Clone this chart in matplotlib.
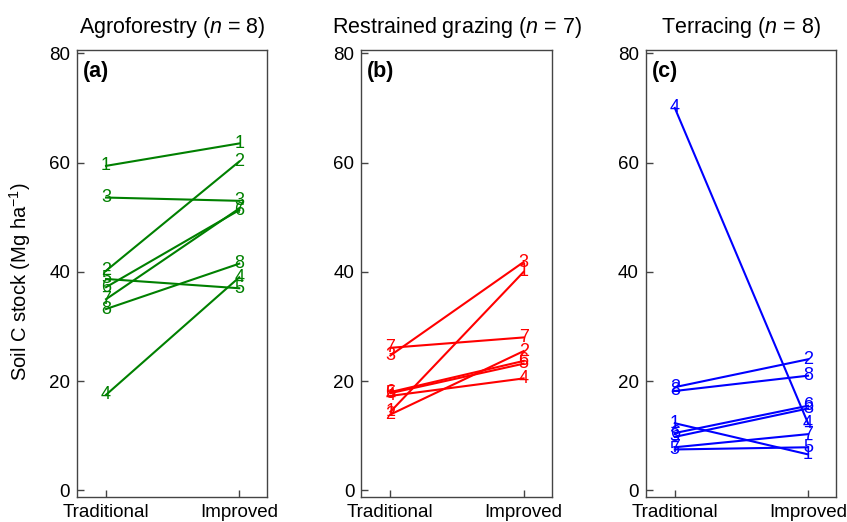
import matplotlib
matplotlib.use("Agg")
import matplotlib.pyplot as plt

plt.rcParams['font.family'] = ['Liberation Sans', 'DejaVu Sans']
plt.rcParams['mathtext.fontset'] = 'custom'
plt.rcParams['mathtext.rm'] = 'Liberation Sans'
plt.rcParams['mathtext.it'] = 'Liberation Sans:italic'
plt.rcParams['mathtext.bf'] = 'Liberation Sans:bold'

categories = ["Traditional", "Improved"]
panel_titles = ["Agroforestry ($\\mathit{n}$ = 8)",
                "Restrained grazing ($\\mathit{n}$ = 7)",
                "Terracing ($\\mathit{n}$ = 8)"]
panel_letters = ["(a)", "(b)", "(c)"]
colors = ["#008000", "#FF0000", "#0000FF"]

agro_trad = [59.4, 40.2, 53.6, 17.5, 38.7, 37.2, 35.0, 33.2]
agro_impr = [63.5, 60.2, 53.0, 39.0, 37.0, 51.3, 51.6, 41.5]
graz_trad = [14.4, 13.9, 24.7, 17.3, 17.8, 18.0, 26.1]
graz_impr = [40.0, 25.5, 41.8, 20.5, 23.2, 23.7, 28.0]
terr_trad = [12.3, 18.9, 9.8, 70.0, 7.5, 10.5, 7.9, 18.2]
terr_impr = [6.6, 24.0, 15.0, 12.3, 7.9, 15.5, 10.3, 21.0]

data = [(agro_trad, agro_impr), (graz_trad, graz_impr), (terr_trad, terr_impr)]
yticks = [0, 20, 40, 60, 80]

fig, axes = plt.subplots(1, 3, figsize=(8.47, 5.22), dpi=100)
fig.subplots_adjust(left=0.0909, right=0.987, top=0.9042, bottom=0.0479, wspace=0.495)

for ax, (trad, impr), title, letter, col in zip(axes, data, panel_titles, panel_letters, colors):
    xpos = [1, 2]
    for i, (t, v) in enumerate(zip(trad, impr)):
        ax.plot(xpos, [t, v], color=col, lw=1.5, zorder=2)
        lab = str(i + 1)
        for xx, yy in zip(xpos, [t, v]):
            ax.text(xx, yy, lab, color=col, fontsize=13, ha='center', va='center', zorder=3)
    ax.set_xlim(0.782, 2.21)
    ax.set_ylim(-1.2, 80.6)
    ax.set_xticks(xpos)
    ax.set_xticklabels(categories)
    ax.set_yticks(yticks)
    ax.tick_params(direction='in', length=5, width=1, labelsize=13.5, pad=5, color='#444444')
    for s in ax.spines.values():
        s.set_color('#444444')
        s.set_linewidth(1.0)
    ax.set_title(title, fontsize=15.5, pad=12)
    ax.text(0.03, 0.975, letter, transform=ax.transAxes, fontsize=15.5,
            fontweight='bold', ha='left', va='top')

fig.text(0.024, 0.46, "Soil C stock (Mg ha$^{-1}$)", rotation=90,
         ha='center', va='center', fontsize=14.5)

fig.savefig("out.png", dpi=100)
